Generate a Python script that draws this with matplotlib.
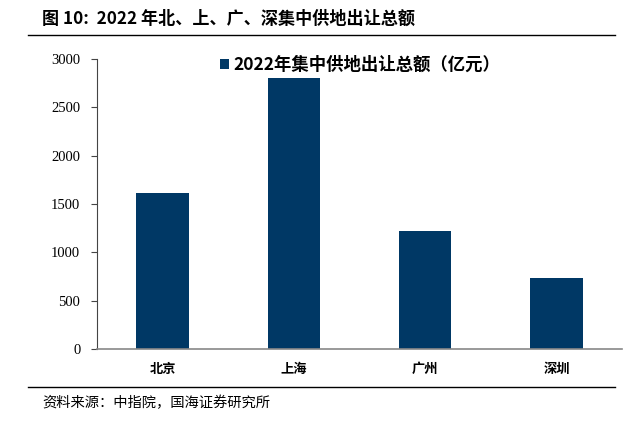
import matplotlib
matplotlib.use("Agg")
import matplotlib.pyplot as plt
from matplotlib.lines import Line2D

cities = ["北京", "上海", "广州", "深圳"]
values = [1614, 2803, 1221, 734]
yticks = [0, 500, 1000, 1500, 2000, 2500, 3000]
series_name = "2022年集中供地出让总额（亿元）"
title = "图 10:  2022 年北、上、广、深集中供地出让总额"
source = "资料来源：中指院，国海证券研究所"

plt.rcParams['font.family'] = ['Noto Sans CJK SC', 'DejaVu Sans']
color = "#003865"

fig = plt.figure(figsize=(6.43, 4.21), dpi=100)
W, H = 643, 421
ax = fig.add_axes([97 / W, 1 - 349 / H, (622 - 97) / W, (349 - 59) / H])

x = list(range(len(cities)))
ax.bar(x, values, width=0.4, color=color, label=series_name)
ax.set_xlim(-0.5, len(cities) - 0.5)
ax.set_ylim(0, 3000)
ax.set_yticks(yticks)
ax.set_yticklabels([str(v) for v in yticks], family="Liberation Serif", fontsize=10.5)
ax.set_xticks(x)
ax.set_xticklabels(cities, fontsize=9.5, fontweight="bold")
ax.tick_params(axis="x", length=0, pad=9)
ax.tick_params(axis="y", direction="out", length=4, width=0.8, pad=8, color="#444444")
for s in ["top", "right"]:
    ax.spines[s].set_visible(False)
ax.spines["left"].set_color("#444444")
ax.spines["bottom"].set_color("#888888")
ax.spines["bottom"].set_linewidth(1.2)

leg = ax.legend(loc="upper left", bbox_to_anchor=(0.205, 1.065), frameon=False,
                handlelength=0.5, handleheight=0.5, handletextpad=0.25,
                prop={"family": ["Noto Sans CJK SC", "DejaVu Sans"], "size": 12.5, "weight": "bold"})

fig.text(42 / W, 1 - 19 / H, title, fontsize=12.3, fontweight="bold", va="center", ha="left")
fig.add_artist(Line2D([28 / W, 615 / W], [1 - 35 / H, 1 - 35 / H], color="black", lw=1.0))
fig.add_artist(Line2D([28 / W, 615 / W], [1 - 387 / H, 1 - 387 / H], color="black", lw=1.0))
fig.text(42 / W, 1 - 403 / H, source, fontsize=10.3, va="center", ha="left")

fig.savefig("out.png", dpi=100)
